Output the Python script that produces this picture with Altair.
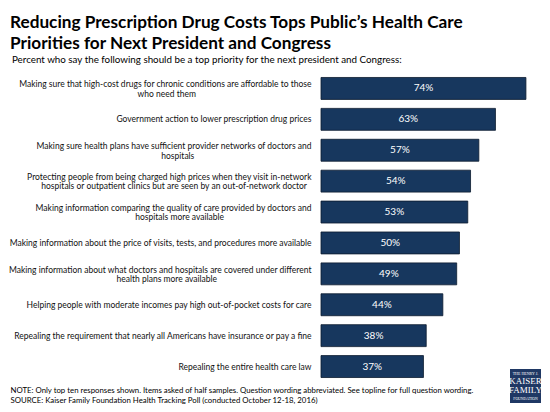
import altair as alt

# ---- data ----
line1 = [
    "Making sure that high-cost drugs for chronic conditions are affordable to those",
    "Government action to lower prescription drug prices",
    "Making sure health plans have sufficient provider networks of doctors and",
    "Protecting people from being charged high prices when they visit in-network",
    "Making information comparing the quality of care provided by doctors and",
    "Making information about the price of visits, tests, and procedures more available",
    "Making information about what doctors and hospitals are covered under different",
    "Helping people with moderate incomes pay high out-of-pocket costs for care",
    "Repealing the requirement that nearly all Americans have insurance or pay a fine",
    "Repealing the entire health care law",
]
line2 = [
    "who need them",
    "",
    "hospitals",
    "hospitals or outpatient clinics but are seen by an out-of-network doctor",
    "hospitals more available",
    "",
    "health plans more available",
    "",
    "",
    "",
]
values = [74, 63, 57, 54, 53, 50, 49, 44, 38, 37]

title_lines = [
    "Reducing Prescription Drug Costs Tops Public\u2019s Health Care",
    "Priorities for Next President and Congress",
]
subtitle = "Percent who say the following should be a top priority for the next president and Congress:"
notes = [
    "NOTE: Only top ten responses shown. Items asked of half samples. Question wording abbreviated. See topline for full question wording.",
    "SOURCE: Kaiser Family Foundation Health Tracking Poll (conducted October 12-18, 2016)",
]
logo_lines = ["THE HENRY J.", "KAISER", "FAMILY", "FOUNDATION"]

FONT = "Lato"
BAR = "#17375E"
LABEL_SIZE = 8.5
CHAR_W = 0.431 * LABEL_SIZE   # average glyph advance, used to centre 2nd lines
LABEL_X = -9.5
HALF_LINE = 4.75

records = []
for a, b, v in zip(line1, line2, values):
    records.append({
        "item": a,
        "l2": b,
        "two": 1 if b else 0,
        "cx": LABEL_X - len(a) * CHAR_W / 2,
        "value": v,
        "pct": f"{v}%",
    })
data = alt.Data(values=records)

y_enc = alt.Y("item:N", sort=line1, axis=None,
              scale=alt.Scale(paddingInner=0.29, paddingOuter=0.145))
x_scale = alt.Scale(domain=[0, 78])

base = alt.Chart(data)

bars = base.mark_bar(color=BAR, stroke="#0b1a2e", strokeWidth=0.8).encode(
    x=alt.X("value:Q", scale=x_scale, axis=None),
    y=y_enc,
)

pct_text = base.transform_calculate(half="datum.value / 2").mark_text(
    color="white", font=FONT, fontSize=10, baseline="middle", align="center"
).encode(
    x=alt.X("half:Q", scale=x_scale, axis=None),
    y=y_enc,
    text="pct:N",
)

lbl_style = dict(baseline="middle", font=FONT, fontSize=LABEL_SIZE, color="#111111")

single = base.transform_filter("datum.two == 0").mark_text(
    align="right", **lbl_style
).encode(x=alt.value(LABEL_X), y=y_enc, text="item:N")

first = base.transform_filter("datum.two == 1").mark_text(
    align="right", dy=-HALF_LINE + 0.5, **lbl_style
).encode(x=alt.value(LABEL_X), y=y_enc, text="item:N")

second = base.transform_filter("datum.two == 1").mark_text(
    align="center", dy=HALF_LINE + 0.5, **lbl_style
).encode(x=alt.X("cx:Q", scale=None), y=y_enc, text="l2:N")


def txt(s, x, y, size, weight="normal", color="black", align="left", font=FONT):
    return alt.Chart(alt.Data(values=[{"t": s}])).mark_text(
        align=align, baseline="alphabetic", fontSize=size, fontWeight=weight,
        color=color, font=font
    ).encode(x=alt.value(x), y=alt.value(y), text="t:N")


layers = [bars, pct_text, single, first, second]
layers.append(txt(title_lines[0], -311, -45, 17.2, weight="bold"))
layers.append(txt(title_lines[1], -311, -24, 17.2, weight="bold"))
layers.append(txt(subtitle, -309, -10, 9.8))
layers.append(txt(notes[0], -310.5, 319.5, 7.8))
layers.append(txt(notes[1], -310.5, 329.5, 7.8))

logo = alt.Chart(alt.Data(values=[{"a": 1}])).mark_rect(color="#1F3864").encode(
    x=alt.value(189), x2=alt.value(220), y=alt.value(296), y2=alt.value(330)
)
layers.append(logo)
layers.append(txt(logo_lines[0], 204.5, 301.5, 4, color="white", align="center", font="Liberation Serif"))
layers.append(txt(logo_lines[1], 204.5, 311, 9, color="white", align="center", font="Liberation Serif"))
layers.append(txt(logo_lines[2], 204.5, 320, 9, color="white", align="center", font="Liberation Serif"))
layers.append(txt(logo_lines[3], 204.5, 327, 3.8, color="white", align="center", font="Liberation Serif"))

chart = alt.layer(*layers).properties(
    width=216, height=309,
    padding={"left": 313, "top": 65, "right": 5, "bottom": 22},
    autosize=alt.AutoSizeParams(type="none"),
    background="white",
).configure_view(strokeWidth=0)

chart.save("out.html", embed_options={"renderer": "svg", "actions": False})
